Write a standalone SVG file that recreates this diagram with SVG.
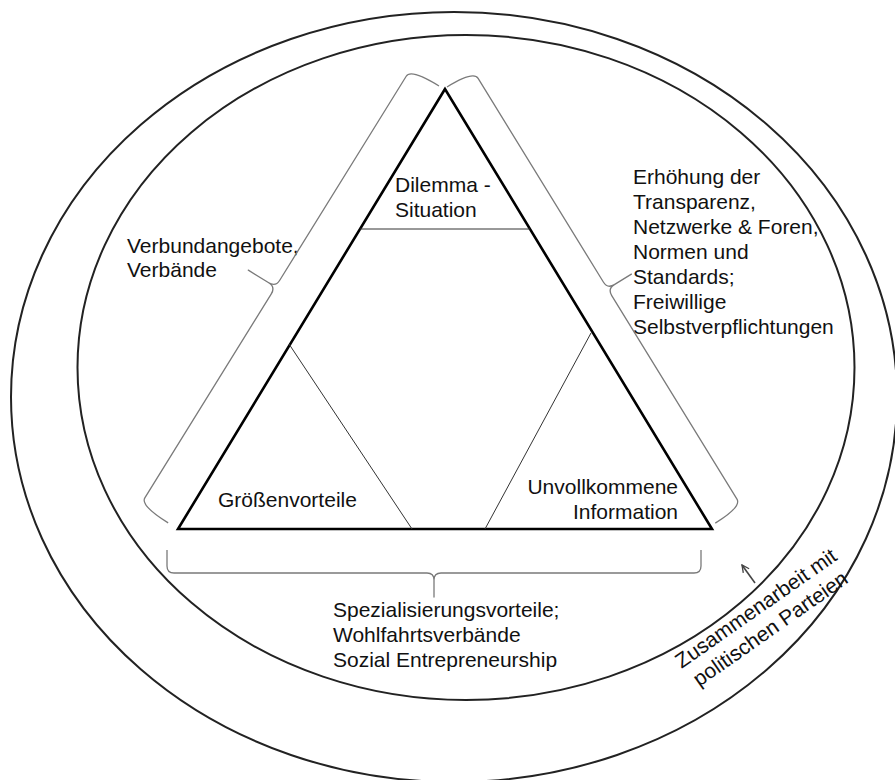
<svg xmlns="http://www.w3.org/2000/svg" width="895" height="780" viewBox="0 0 895 780">
<style>
.ring{fill:none;stroke:#222;stroke-width:2}
.tri{fill:none;stroke:#000;stroke-width:2.6;stroke-linejoin:miter}
.div{fill:none;stroke:#333;stroke-width:1}
.brace{fill:none;stroke:#7a7a7a;stroke-width:1.3;stroke-linejoin:round}
.lbl{font-family:"Liberation Sans",Arial,sans-serif;font-size:21px;fill:#111}
.arrow{fill:none;stroke:#444;stroke-width:1.6}
</style>
<defs>
<marker id="arr" viewBox="0 0 10 10" refX="9" refY="5" markerWidth="9" markerHeight="9" markerUnits="userSpaceOnUse" orient="auto">
<path d="M1,1 L9,5 L1,9" fill="none" stroke="#444" stroke-width="1.5"/>
</marker>
</defs>
<rect width="895" height="780" fill="#fff"/>
<g id="outer-ring"><ellipse class="ring" cx="454" cy="397" rx="443" ry="385"/></g>
<g id="inner-ring"><ellipse class="ring" cx="466" cy="367.5" rx="388.5" ry="332.5"/></g>
<g id="triangle">
<polygon class="tri" points="445,89 178,529 712,529"/>
<line class="div" x1="360" y1="229" x2="530" y2="229"/>
<line class="div" x1="289" y1="344" x2="412" y2="529"/>
<line class="div" x1="591" y1="333" x2="485" y2="529"/>
</g>
<g id="dilemma"><text class="lbl" x="395" y="192">Dilemma -</text><text class="lbl" x="395" y="217">Situation</text></g>
<g id="groessenvorteile"><text class="lbl" x="218" y="507">Größenvorteile</text></g>
<g id="information"><text class="lbl" x="678" y="494" text-anchor="end">Unvollkommene</text><text class="lbl" x="678" y="519" text-anchor="end">Information</text></g>
<g id="verbund"><text class="lbl" x="127" y="253">Verbundangebote,</text><text class="lbl" x="127" y="277">Verbände</text></g>
<g id="transparenz">
<text class="lbl" x="633" y="184">Erhöhung der</text>
<text class="lbl" x="633" y="209">Transparenz,</text>
<text class="lbl" x="633" y="234">Netzwerke &amp; Foren,</text>
<text class="lbl" x="633" y="259">Normen und</text>
<text class="lbl" x="633" y="284">Standards;</text>
<text class="lbl" x="633" y="309">Freiwillige</text>
<text class="lbl" x="633" y="334">Selbstverpflichtungen</text>
</g>
<g id="spezialisierung">
<text class="lbl" x="333" y="617">Spezialisierungsvorteile;</text>
<text class="lbl" x="333" y="642">Wohlfahrtsverbände</text>
<text class="lbl" x="333" y="667">Sozial Entrepreneurship</text>
</g>
<g id="parteien" transform="translate(760,614) rotate(-35)">
<text class="lbl" x="0" y="0" text-anchor="middle">Zusammenarbeit mit</text>
<text class="lbl" x="0" y="25" text-anchor="middle">politischen Parteien</text>
</g>
<g id="connectors">
<path class="brace" transform="translate(439,86) rotate(121.8)" d="M0,0 Q0,33 9,33 L249,33 Q257,33 257,41 L257,65 L257,41 Q257,33 265,33 L505,33 Q514,33 514,0"/>
<path class="brace" transform="translate(447,87) rotate(58.4)" d="M0,0 Q0,-31 9,-31 L248,-31 Q256,-31 256,-39 L256,-59 L256,-39 Q256,-31 264,-31 L503,-31 Q512,-31 512,0"/>
<path class="brace" d="M167,550 V566 Q167,573 174,573 H427 Q434,573 434,580 V597 V580 Q434,573 441,573 H694 Q701,573 701,566 V550"/>
<line class="arrow" x1="755" y1="583" x2="742" y2="565" marker-end="url(#arr)"/>
</g>
</svg>
